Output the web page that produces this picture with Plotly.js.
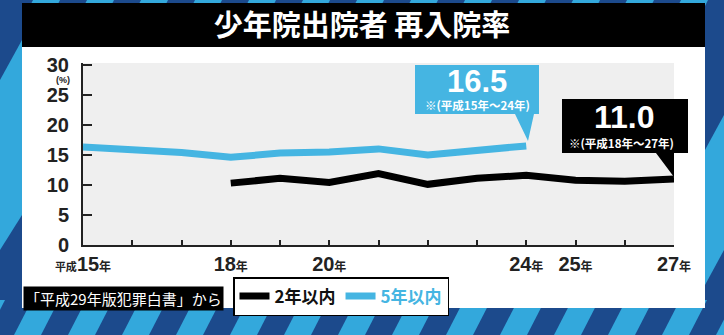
<!DOCTYPE html>
<html>
<head>
<meta charset="utf-8">
<script src="https://cdn.plot.ly/plotly-3.0.1.min.js"></script>
<style>
html,body{margin:0;padding:0;background:#1c4a8c;}
#chart{width:724px;height:335px;}
</style>
</head>
<body>
<div id="chart"></div>
<script>
// ---- data ----
const years = [15,16,17,18,19,20,21,22,23,24,25,26,27];
const within2Years = [null,null,null,10.3,11.1,10.4,11.9,10.1,11.1,11.6,10.8,10.6,11.0];
const within5Years = [16.3,15.8,15.4,14.6,15.3,15.5,16.0,15.0,15.7,16.5,null,null,null];
const labeledYears = {15:'平成15年',18:'18年',20:'20年',24:'24年',25:'25年',27:'27年'};
const yTicks = [0,5,10,15,20,25,30];
const callout5 = {value:'16.5', note:'※(平成15年～24年)'};
const callout2 = {value:'11.0', note:'※(平成18年～27年)'};
const seriesNames = ['2年以内','5年以内'];
const titleText = '少年院出院者 再入院率';
const sourceText = '「平成29年版犯罪白書」から';

// ---- layout helpers ----
const W = 724, H = 335;
const M = {l:83, r:50, t:63, b:90};
const PW = W - M.l - M.r, PH = H - M.t - M.b;
const px = x => (x - M.l) / PW;
const py = y => (H - M.b - y) / PH;
const NAVY = '#1c4a8c', LIGHT = '#33a8dc', BLUE = '#45b5e2', GRAY = '#efefef';

function poly(pts){
  return 'M' + pts.map(p => px(p[0]).toFixed(5) + ',' + py(p[1]).toFixed(5)).join(' L') + ' Z';
}
const shapes = [];
// background stripes
shapes.push({type:'path', xref:'paper', yref:'paper', layer:'below', line:{width:0}, fillcolor:LIGHT,
  path: poly([[0,80],[22,40],[22,215],[0,250]])});
shapes.push({type:'path', xref:'paper', yref:'paper', layer:'below', line:{width:0}, fillcolor:LIGHT,
  path: poly([[705,150],[724,115],[724,250],[705,285]])});
for (let x0 = -40; x0 < W + 40; x0 += 54) {
  shapes.push({type:'path', xref:'paper', yref:'paper', layer:'below', line:{width:0}, fillcolor:LIGHT,
    path: poly([[x0,335],[x0+27,335],[x0+45,300],[x0+18,300]])});
  shapes.push({type:'path', xref:'paper', yref:'paper', layer:'below', line:{width:0}, fillcolor:LIGHT,
    path: poly([[x0+70,6],[x0+97,6],[x0+100,0],[x0+73,0]])});
}
// card and title bar
shapes.push({type:'rect', xref:'paper', yref:'paper', layer:'below', line:{width:0}, fillcolor:'#ffffff',
  x0:px(22), x1:px(705), y0:py(308), y1:py(47)});
shapes.push({type:'rect', xref:'paper', yref:'paper', layer:'below', line:{width:0}, fillcolor:'#000000',
  x0:px(22), x1:px(705), y0:py(47), y1:py(3)});
// plot area
shapes.push({type:'rect', xref:'paper', yref:'paper', layer:'below', line:{width:0}, fillcolor:GRAY,
  x0:0, x1:1, y0:0, y1:1});
// callouts
shapes.push({type:'path', xref:'paper', yref:'paper', layer:'above', line:{width:0}, fillcolor:BLUE,
  path: poly([[415,65],[539,65],[539,114],[534,114],[528,141],[515,114],[415,114]])});
shapes.push({type:'path', xref:'paper', yref:'paper', layer:'above', line:{width:0}, fillcolor:'#000000',
  path: poly([[562,99],[688,99],[688,153],[674,153],[674,177],[656,153],[562,153]])});

const FONT = 'Liberation Sans, Arial, Noto Sans CJK JP, sans-serif';
const JFONT = 'Noto Sans CJK JP, sans-serif';

const annotations = [
  {xref:'paper', yref:'paper', x:px(477), y:py(81), text:callout5.value, showarrow:false,
   font:{family:FONT, size:31, color:'#ffffff', weight:'bold'}, xanchor:'center', yanchor:'middle'},
  {xref:'paper', yref:'paper', x:px(477), y:py(105), text:callout5.note, showarrow:false,
   font:{family:JFONT, size:11.5, color:'#ffffff', weight:'bold'}, xanchor:'center', yanchor:'middle'},
  {xref:'paper', yref:'paper', x:px(624), y:py(117), text:callout2.value, showarrow:false,
   font:{family:FONT, size:32, color:'#ffffff', weight:'bold'}, xanchor:'center', yanchor:'middle'},
  {xref:'paper', yref:'paper', x:px(621), y:py(143), text:callout2.note, showarrow:false,
   font:{family:JFONT, size:11.5, color:'#ffffff', weight:'bold'}, xanchor:'center', yanchor:'middle'},
  {xref:'paper', yref:'paper', x:px(63), y:py(79.5), text:'(%)', showarrow:false,
   font:{family:FONT, size:9, color:'#222222', weight:'bold'}, xanchor:'center', yanchor:'middle'},
  {xref:'paper', yref:'paper', x:px(23), y:py(298), text:sourceText, showarrow:false,
   bgcolor:'#000000', borderpad:1, font:{family:JFONT, size:15, color:'#ffffff'}, xanchor:'left', yanchor:'middle'}
];

const tickText = years.map(y => {
  const t = labeledYears[y];
  if (!t) return '';
  const m = t.match(/^(平成)?(\d+)(年)$/);
  return (m[1] ? '<span style="font-size:11px">' + m[1] + '</span>' : '') + m[2] +
         '<span style="font-size:12px">' + m[3] + '</span>';
});

const traces = [
  {x: years, y: within2Years, type:'scatter', mode:'lines', name: seriesNames[0],
   line:{color:'#000000', width:7}, connectgaps:false, hoverinfo:'skip'},
  {x: years, y: within5Years, type:'scatter', mode:'lines', name: '<span style="color:' + BLUE + '">' + seriesNames[1] + '</span>',
   line:{color:BLUE, width:7}, connectgaps:false, hoverinfo:'skip'}
];

const layout = {
  width: W, height: H,
  margin: {l:M.l, r:M.r, t:M.t, b:M.b, pad:0},
  paper_bgcolor: NAVY,
  plot_bgcolor: 'rgba(0,0,0,0)',
  title: {text: titleText, x: 0.5, xref:'container', y: 1 - 26/H, yref:'container', xanchor:'center', yanchor:'middle',
          font:{family:JFONT, size:29, color:'#ffffff', weight:'bold'}},
  xaxis: {range:[15,27], tickmode:'array', tickvals: years, ticktext: tickText,
          showgrid:false, zeroline:false, showline:true, linecolor:'#222222', linewidth:2,
          ticks:'inside', ticklen:5, tickwidth:2, tickcolor:'#222222',
          tickfont:{family:FONT, size:20, color:'#222222', weight:'bold'}, fixedrange:true},
  yaxis: {range:[0,30.3], tickmode:'array', tickvals: yTicks, ticktext: yTicks.map(String),
          showgrid:false, zeroline:false, showline:true, linecolor:'#222222', linewidth:2,
          ticks:'inside', ticklen:9, tickwidth:2, tickcolor:'#222222', ticklabelstandoff:8,
          tickfont:{family:FONT, size:20, color:'#222222', weight:'bold'}, fixedrange:true},
  showlegend: true,
  legend: {orientation:'h', x:px(233), y:py(277), xanchor:'left', yanchor:'top',
           bgcolor:'#ffffff', bordercolor:'#000000', borderwidth:1.5,
           font:{family:JFONT, size:17, color:'#111111', weight:'bold'}, itemwidth:30},
  shapes: shapes,
  annotations: annotations
};

Plotly.newPlot('chart', traces, layout, {staticPlot:true, displayModeBar:false});
</script>
</body>
</html>
